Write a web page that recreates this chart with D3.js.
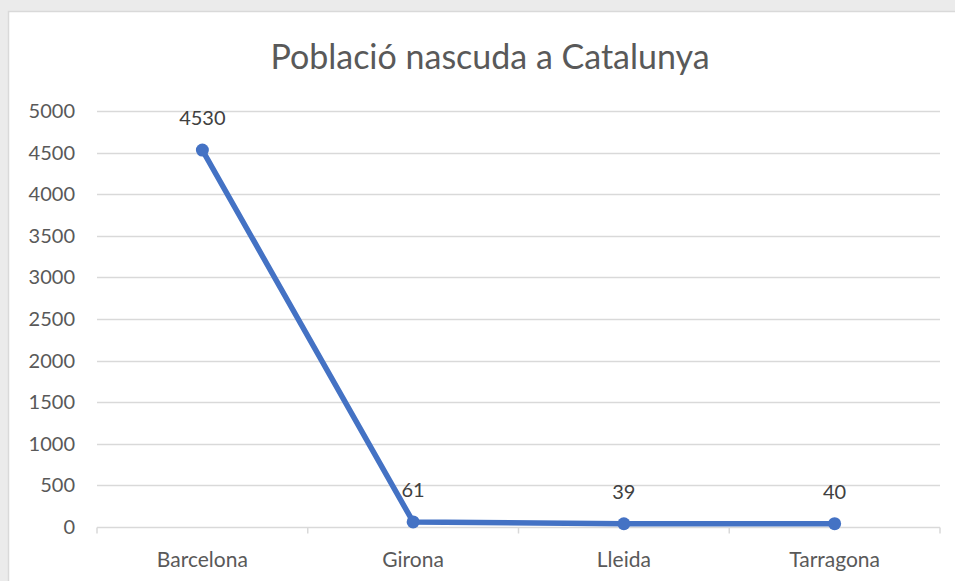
<!DOCTYPE html>
<html>
<head>
<meta charset="utf-8">
<script src="https://cdn.jsdelivr.net/npm/d3@7"></script>
<style>
  body { margin: 0; background: #ebebeb; }
  svg { display: block; }
</style>
</head>
<body>
<svg id="chart"></svg>
<script>
// dades
var categories = ['Barcelona', 'Girona', 'Lleida', 'Tarragona'];
var valors = [4530, 61, 39, 40];
var yTicks = [0, 500, 1000, 1500, 2000, 2500, 3000, 3500, 4000, 4500, 5000];
var titol = 'Població nascuda a Catalunya';

var W = 955, H = 581;
var svg = d3.select('#chart').attr('width', W).attr('height', H);
var font = 'Lato, "Open Sans", sans-serif';
var gris = '#595959';

// fons i requadre del grafic
svg.append('rect').attr('x', 0).attr('y', 0).attr('width', W).attr('height', H).attr('fill', '#ebebeb');
svg.append('rect')
    .attr('x', 8.5).attr('y', 11.5).attr('width', W).attr('height', H)
    .attr('fill', '#fff').attr('stroke', '#d9d9d9').attr('stroke-width', 1.5);

// escales
var x = d3.scaleBand().domain(categories).range([97, 940]);
var y = d3.scaleLinear().domain([0, 5000]).range([527, 111]);

// graella horitzontal
svg.append('g').selectAll('line').data(yTicks.slice(1)).join('line')
    .attr('x1', 97).attr('x2', 940)
    .attr('y1', function (d) { return Math.round(y(d)) + 0.5; })
    .attr('y2', function (d) { return Math.round(y(d)) + 0.5; })
    .attr('stroke', '#d9d9d9').attr('stroke-width', 1.5);

// eix Y (nomes etiquetes)
var gy = svg.append('g').attr('transform', 'translate(97,0)')
    .call(d3.axisLeft(y).tickValues(yTicks).tickFormat(d3.format('d')).tickSize(0).tickPadding(22));
gy.select('.domain').remove();
gy.selectAll('text').attr('font-family', font).attr('font-size', 20).attr('fill', gris);

// eix X
var gx = svg.append('g').attr('transform', 'translate(0,' + (Math.round(y(0)) + 0.5) + ')');
gx.append('line').attr('x1', 97).attr('x2', 940).attr('stroke', '#d9d9d9').attr('stroke-width', 1.5);
var limits = categories.map(function (c) { return x(c); }).concat([x.range()[1]]);
gx.selectAll('line.tick').data(limits).join('line').attr('class', 'tick')
    .attr('x1', function (d) { return d; }).attr('x2', function (d) { return d; })
    .attr('y1', 0).attr('y2', 6)
    .attr('stroke', '#d9d9d9').attr('stroke-width', 1.5);
gx.selectAll('text').data(categories).join('text')
    .attr('x', function (d) { return x(d) + x.bandwidth() / 2; })
    .attr('y', 39)
    .attr('text-anchor', 'middle')
    .attr('font-family', font).attr('font-size', 21).attr('fill', gris)
    .text(function (d) { return d; });

// linia
var punts = categories.map(function (c, i) { return [c, valors[i]]; });
var linia = d3.line()
    .x(function (d) { return x(d[0]) + x.bandwidth() / 2; })
    .y(function (d) { return y(d[1]); });
svg.append('path').attr('d', linia(punts))
    .attr('fill', 'none').attr('stroke', '#4472c4').attr('stroke-width', 5.5)
    .attr('stroke-linejoin', 'round').attr('stroke-linecap', 'round');

svg.append('g').selectAll('circle').data(punts).join('circle')
    .attr('cx', function (d) { return x(d[0]) + x.bandwidth() / 2; })
    .attr('cy', function (d) { return y(d[1]); })
    .attr('r', 6.5).attr('fill', '#4472c4');

// etiquetes de dades
svg.append('g').selectAll('text').data(punts).join('text')
    .attr('x', function (d) { return x(d[0]) + x.bandwidth() / 2; })
    .attr('y', function (d) { return y(d[1]) - 25; })
    .attr('text-anchor', 'middle')
    .attr('font-family', font).attr('font-size', 20).attr('fill', '#404040')
    .text(function (d) { return d[1]; });

// titol
svg.append('text')
    .attr('x', 490).attr('y', 69)
    .attr('text-anchor', 'middle')
    .attr('font-family', font).attr('font-size', 34).attr('fill', gris)
    .text(titol);
</script>
</body>
</html>
